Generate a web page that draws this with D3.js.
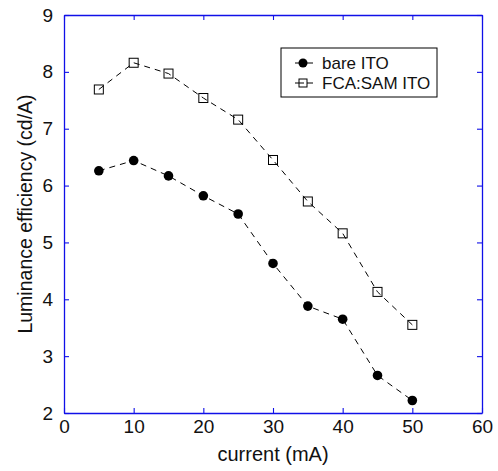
<!DOCTYPE html>
<html>
<head>
<meta charset="utf-8">
<script src="https://cdn.jsdelivr.net/npm/d3@7"></script>
<style>
  body { margin: 0; background: #fff; }
  svg { display: block; font-family: "Liberation Sans", Arial, sans-serif; }
</style>
</head>
<body>
<div id="chart"></div>
<script>
// data
const current = [5, 10, 15, 20, 25, 30, 35, 40, 45, 50]
const bareITO = [6.26, 6.44, 6.17, 5.82, 5.50, 4.63, 3.88, 3.65, 2.66, 2.22]
const fcaSamITO = [7.69, 8.16, 7.97, 7.54, 7.16, 6.45, 5.72, 5.16, 4.13, 3.55]
const xTicks = [0, 10, 20, 30, 40, 50, 60]
const yTicks = [2, 3, 4, 5, 6, 7, 8, 9]

const W = 498, H = 471
const margin = {top: 15, right: 16, bottom: 58, left: 64}
const width = W - margin.left - margin.right
const height = H - margin.top - margin.bottom
const axisColor = "#1010e8"

const svg = d3.select("#chart").append("svg").attr("width", W).attr("height", H)
const g = svg.append("g").attr("transform", "translate(" + margin.left + "," + margin.top + ")")

const x = d3.scaleLinear().domain([0, 60]).range([0, width])
const y = d3.scaleLinear().domain([2, 9]).range([height, 0])

// axes, ticks pointing inward on all four sides
function styleAxis(sel, labels) {
  sel.select(".domain").attr("stroke", axisColor).attr("stroke-width", 1.3)
  sel.selectAll(".tick line").attr("stroke", axisColor).attr("stroke-width", 1.1)
  sel.selectAll(".tick text").attr("fill", "#111").style("font-size", "19px")
  if (!labels) sel.selectAll(".tick text").remove()
}

g.append("g").attr("transform", "translate(0," + height + ")")
  .call(d3.axisBottom(x).tickValues(xTicks).tickFormat(d3.format("d")).tickSizeInner(-5).tickSizeOuter(0).tickPadding(7))
  .call(s => styleAxis(s, true))
g.append("g")
  .call(d3.axisTop(x).tickValues(xTicks).tickSizeInner(-5).tickSizeOuter(0))
  .call(s => styleAxis(s, false))
g.append("g")
  .call(d3.axisLeft(y).tickValues(yTicks).tickFormat(d3.format("d")).tickSizeInner(-5).tickSizeOuter(0).tickPadding(11))
  .call(s => styleAxis(s, true))
g.append("g").attr("transform", "translate(" + width + ",0)")
  .call(d3.axisRight(y).tickValues(yTicks).tickSizeInner(-5).tickSizeOuter(0))
  .call(s => styleAxis(s, false))

// dashed series lines
const line = d3.line().x((d, i) => x(current[i])).y(d => y(d))
;[bareITO, fcaSamITO].forEach(series => {
  g.append("path").datum(series)
    .attr("d", line)
    .attr("fill", "none")
    .attr("stroke", "#000")
    .attr("stroke-width", 1)
    .attr("stroke-dasharray", "6,5")
})

// markers
g.selectAll(".bare").data(bareITO).enter().append("circle")
  .attr("cx", (d, i) => x(current[i]))
  .attr("cy", d => y(d))
  .attr("r", 4.8)
  .attr("fill", "#000")

g.selectAll(".fca").data(fcaSamITO).enter().append("rect")
  .attr("x", (d, i) => x(current[i]) - 4.5)
  .attr("y", d => y(d) - 4.5)
  .attr("width", 9)
  .attr("height", 9)
  .attr("fill", "none")
  .attr("stroke", "#000")
  .attr("stroke-width", 1)

// axis titles
svg.append("text")
  .attr("x", margin.left + x(30)).attr("y", 461)
  .attr("text-anchor", "middle")
  .style("font-size", "20px").attr("fill", "#111")
  .text("current (mA)")

svg.append("text")
  .attr("transform", "translate(32," + (margin.top + y(5.5)) + ") rotate(-90)")
  .attr("text-anchor", "middle")
  .style("font-size", "19.5px").attr("fill", "#111")
  .text("Luminance efficiency (cd/A)")

// legend
const leg = svg.append("g").attr("transform", "translate(281,48)")
leg.append("rect").attr("width", 156).attr("height", 49)
  .attr("fill", "#fff").attr("stroke", "#000").attr("stroke-width", 1)

const legendItems = [
  {label: "bare ITO", kind: "circle", y: 15},
  {label: "FCA:SAM ITO", kind: "square", y: 35}
]
legendItems.forEach(item => {
  leg.append("line")
    .attr("x1", 14).attr("x2", 36).attr("y1", item.y).attr("y2", item.y)
    .attr("stroke", "#000").attr("stroke-width", 1).attr("stroke-dasharray", "9,3,6")
  if (item.kind === "circle") {
    leg.append("circle").attr("cx", 22).attr("cy", item.y).attr("r", 4.5).attr("fill", "#000")
  } else {
    leg.append("rect").attr("x", 18).attr("y", item.y - 4).attr("width", 8).attr("height", 8)
      .attr("fill", "none").attr("stroke", "#000")
  }
  leg.append("text").attr("x", 41).attr("y", item.y + 6)
    .style("font-size", "17px").attr("fill", "#111")
    .text(item.label)
})
</script>
</body>
</html>
